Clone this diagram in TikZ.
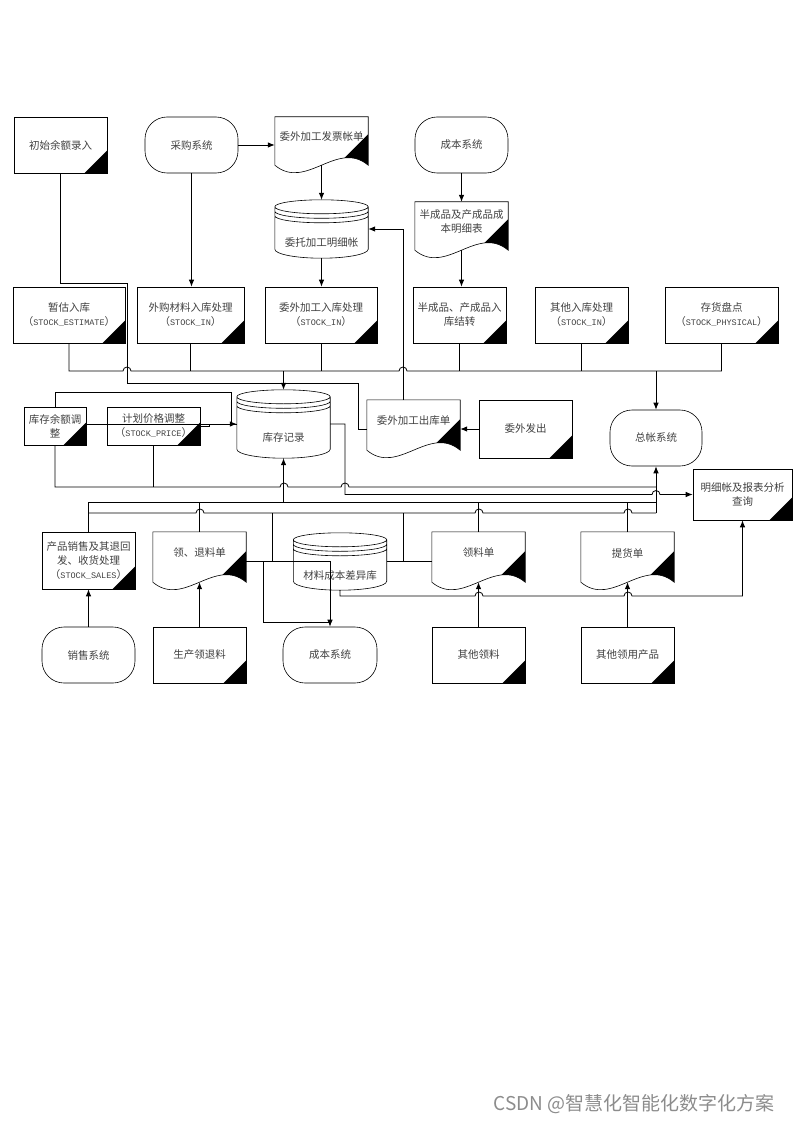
\documentclass[tikz,border=0pt]{standalone}
\usepackage{fontspec}
\setmainfont{Noto Sans CJK SC}
\setmonofont{Liberation Mono}
\usetikzlibrary{arrows.meta,calc}

\newcommand\stk[1]{（{\ttfamily\fontsize{8.5pt}{10pt}\selectfont #1}）}

\tikzset{
  txt/.style={font=\fontsize{10.5pt}{14pt}\selectfont, text=black!75, align=center},
  procbox/.style={txt, draw, line width=0.6pt, minimum width=93pt, minimum height=56pt, inner sep=1pt,
    append after command={\pgfextra{\fill (\tikzlastnode.south east) -- ++(0pt,23pt) -- ++(-23pt,-23pt) -- cycle;}}},
  termbox/.style={txt, draw, line width=0.6pt, rounded corners=22pt, minimum width=93pt, minimum height=56pt},
  docbox/.style={minimum width=93pt, minimum height=50pt, inner sep=0pt,
    label={[txt,yshift=4pt]center:#1},
    append after command={\pgfextra{
      \draw[line width=0.6pt] let \p1=(\tikzlastnode.north west), \p2=(\tikzlastnode.south east), \n1={(\x2-\x1)/3} in
        (\x1,\y2) -- (\x1,\y1) -- (\x2,\y1) -- (\x2,\y2)
        .. controls (\x2-\n1,\y2+26pt) and (\x1+\n1,\y2-26pt) .. (\x1,\y2) -- cycle;
      \begin{scope}
        \clip let \p1=(\tikzlastnode.north west), \p2=(\tikzlastnode.south east), \n1={(\x2-\x1)/3} in
          (\x1,\y2) -- (\x1,\y1) -- (\x2,\y1) -- (\x2,\y2)
          .. controls (\x2-\n1,\y2+26pt) and (\x1+\n1,\y2-26pt) .. (\x1,\y2) -- cycle;
        \fill let \p2=(\tikzlastnode.south east) in
          (\x2,\y2+31pt) -- (\x2-40pt,\y2-9pt) -- (\x2,\y2-9pt) -- cycle;
      \end{scope}}}},
  dbbox/.style={minimum width=93pt, minimum height=58pt, inner sep=0pt,
    label={[txt,yshift=-14pt]center:#1},
    append after command={\pgfextra{
      \draw[line width=0.6pt] let \p1=(\tikzlastnode.north west), \p2=(\tikzlastnode.south east), \n1={(\x2-\x1)/2} in
        (\x1,\y1-7pt) arc[start angle=180,end angle=-180,x radius=\n1,y radius=7pt]
        (\x1,\y1-11.5pt) arc[start angle=180,end angle=360,x radius=\n1,y radius=7pt]
        (\x1,\y1-16pt) arc[start angle=180,end angle=360,x radius=\n1,y radius=7pt]
        (\x1,\y1-7pt) -- (\x1,\y2+9pt) arc[start angle=180,end angle=360,x radius=\n1,y radius=9pt] -- (\x2,\y1-7pt);}}}
}

\begin{document}
\begin{tikzpicture}[x=1pt,y=-1pt,>={Latex[length=7pt,width=5.5pt]}]
\useasboundingbox (0,0) rectangle (794,1123);

% top rows
\node[procbox] (1) at (60.5,145) {初始余额录入};
\node[termbox] (2) at (191.5,145) {采购系统};
\node[docbox={委外加工发票帐单}, minimum height=48pt] (3) at (321.5,141) {};
\node[termbox] (4) at (461.5,145) {成本系统};
\node[dbbox={委托加工明细帐}] (5) at (321.5,229) {};
\node[docbox={半成品及产成品成\\本明细表}, minimum height=48pt] (6) at (461.5,226) {};

\node[procbox, minimum width=112pt] (7) at (69,315) {暂估入库\\\stk{STOCK\_ESTIMATE}};
\node[procbox, minimum width=107pt] (8) at (190.5,315) {外购材料入库处理\\\stk{STOCK\_IN}};
\node[procbox, minimum width=112pt] (9) at (321,315) {委外加工入库处理\\\stk{STOCK\_IN}};
\node[procbox] (10) at (459.5,315) {半成品、产成品入\\库结转};
\node[procbox] (11) at (581.5,315) {其他入库处理\\\stk{STOCK\_IN}};
\node[procbox, minimum width=113pt] (12) at (721.5,315) {存货盘点\\\stk{STOCK\_PHYSICAL}};

% middle
\node[procbox, minimum width=62pt, minimum height=38pt] (13) at (55,426) {库存余额调\\整};
\node[procbox, minimum height=38pt] (14) at (153.5,426) {计划价格调整\\\stk{STOCK\_PRICE}};
\node[dbbox={库存记录}, minimum height=68pt] (15) at (283.5,424) {};
\node[docbox={委外加工出库单}] (16) at (413.5,425) {};
\node[procbox, minimum height=58pt] (17) at (525.5,429) {委外发出};
\node[termbox, minimum width=92pt] (18) at (656,438) {总帐系统};
\node[procbox, minimum width=99pt, minimum height=51pt] (19) at (742.5,494.5) {明细帐及报表分析\\查询};

% bottom rows
\node[procbox, minimum height=57pt] (20) at (88.5,560.5) {产品销售及其退回\\发、收货处理\\\stk{STOCK\_SALES}};
\node[docbox={领、退料单}] (21) at (199.5,557) {};
\node[dbbox={材料成本差异库}, minimum height=57pt] (22) at (340,561.5) {};
\node[docbox={领料单}] (23) at (478.5,557) {};
\node[docbox={提货单}] (24) at (627.5,557) {};
\node[termbox] (25) at (88.5,655) {销售系统};
\node[procbox] (26) at (199.5,655) {生产领退料};
\node[termbox, minimum width=94pt] (27) at (330,655) {成本系统};
\node[procbox] (28) at (478.5,655) {其他领料};
\node[procbox] (29) at (627.5,655) {其他领用产品};

% top connectors
\path[draw,thick,->] (2.east) -- (2.east -| 3.west);
\path[draw,thick,->] (3.south) -- (5.north);
\path[draw,thick,->] (4.south) -- (6.north);
\path[draw,thick,->] (2.south) -- (2.south |- 8.north);
\path[draw,thick,->] (5.south) -- (5.south |- 9.north);
\path[draw,thick,->] (6.south) -- (6.south |- 10.north);
\path[draw,thick] (1.south) |- (127,283) -- (127,383) -- (358,383) |- (16.west |- 0,429);

% input bus
\coordinate (bus1) at (0,371);
\path[draw,thick] (7.south) |- (123,371) arc[start angle=180,end angle=0,radius=4pt]
  -- (399,371) arc[start angle=180,end angle=0,radius=4pt] -| (12.south);
\foreach \n in {8,9,10,11} \path[draw,thick] (\n.south) -- (\n.south |- bus1);
\path[draw,thick,->] (15.north |- bus1) -- (15.north);
\path[draw,thick,->] (18.north |- bus1) -- (18.north);
\path[draw,thick,->] ([xshift=-10.5pt]16.north) |- (5.east);
\path[draw,thick,->] (17.west) -- (17.west -| 16.east);

% adjustments
\path[draw,thick,->] (13.north) |- (231,392) |- (15.west);
\path[draw,thick] (13.east |- 15.west) -- (15.west);
\path[draw,thick] (14.east) -- (209,426) -- (209,424);
\path[draw,thick] (13.south) |- (280,487) arc[start angle=180,end angle=0,radius=4pt]
  -- (341,487) arc[start angle=180,end angle=0,radius=4pt] -- (656,487);
\path[draw,thick] (14.south) -- (14.south |- 0,487);
\path[draw,thick,->] (15.east) -| (345,494.5) -- (652,494.5) arc[start angle=180,end angle=0,radius=4pt] -- (19.west);

% output buses
\path[draw,thick] (20.north) |- (656,502);
\foreach \n in {21,23,24} \path[draw,thick] (\n.north) -- (\n.north |- 0,502);
\path[draw,thick,->] (15.south |- 0,502) -- (15.south);
\path[draw,thick,->] (656,513) -- (18.south);
\path[draw,thick] (20.north |- 0,513) -- (196,513) arc[start angle=180,end angle=0,radius=4pt]
  -- (475,513) arc[start angle=180,end angle=0,radius=4pt]
  -- (624,513) arc[start angle=180,end angle=0,radius=4pt] -- (656,513);
\path[draw,thick] (272,513) -- (272,561);
\path[draw,thick] (403,513) -- (403,561);

% bottom connectors
\path[draw,thick,->] ([yshift=-4pt]21.east) -| (27.north);
\path[draw,thick] (263,561) |- (27.north |- 0,622);
\path[draw,thick] (22.east) -- (22.east -| 23.west);
\path[draw,thick,->] (22.south) |- (475,596) arc[start angle=180,end angle=0,radius=4pt]
  -- (624,596) arc[start angle=180,end angle=0,radius=4pt] -| (19.south);
\path[draw,thick,->] (25.north) -- (20.south);
\path[draw,thick,->] (26.north) -- (21.south);
\path[draw,thick,->] (28.north) -- (23.south);
\path[draw,thick,->] (29.north) -- (24.south);

\node[text=black!45, font=\fontsize{19pt}{21pt}\selectfont, anchor=east] (wm) at (778,1104) {CSDN @智慧化智能化数字化方案};
\end{tikzpicture}
\end{document}
